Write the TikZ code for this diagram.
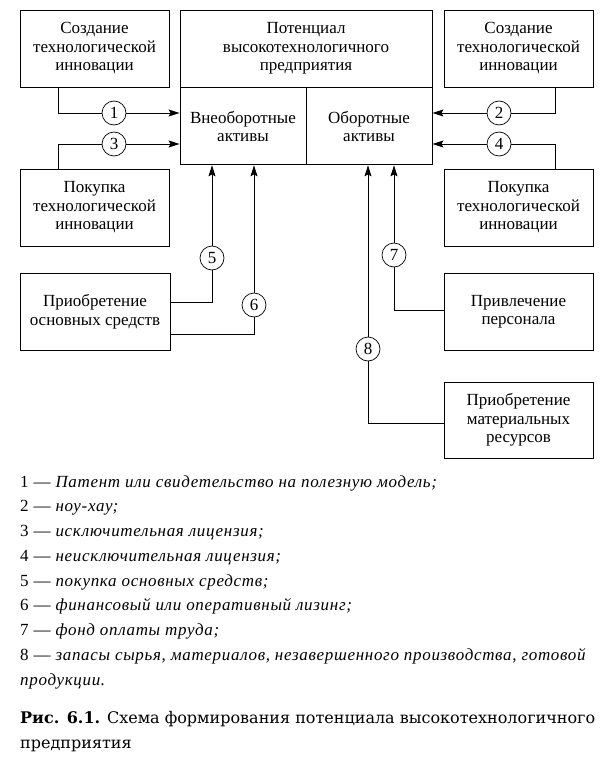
\documentclass[tikz,border=0pt]{standalone}
\usepackage{fontspec}
\setmainfont{Liberation Serif}
\newfontfamily\capfont{DejaVu Serif}
\newfontfamily\legfont[LetterSpace=4]{Liberation Serif}
\usetikzlibrary{positioning,arrows.meta,calc}
\tikzset{
  blk/.style={draw, line width=0.9pt, align=center, inner sep=2pt,
              font=\fontsize{17}{18.5}\selectfont},
  src/.style={blk, minimum width=149pt, minimum height=77pt},
  half/.style={blk, minimum width=126pt, minimum height=77pt},
  num/.style={circle, draw, line width=0.7pt, minimum size=24pt, inner sep=0pt,
              font=\fontsize{17}{17}\selectfont},
  ln/.style={line width=0.8pt},
  ar/.style={ln, -{Stealth[length=11pt,width=7pt,inset=2pt]}},
  leg/.style={anchor=base west, inner sep=0pt, font=\legfont\fontsize{17}{18}\selectfont},
  capt/.style={leg, font=\capfont\fontsize{16}{18}\selectfont},
}

\begin{document}
\begin{tikzpicture}[x=1pt, y=-1pt]
  \useasboundingbox (0,0) rectangle (606,770);
  % blocks
  \node[src] (cl1) at (94.5,48.5) {Создание\\технологической\\инновации};
  \node[blk, minimum width=252pt, minimum height=77pt] (pot) at (306,48.5)
    {Потенциал\\высокотехнологичного\\предприятия};
  \node[half, anchor=north west] (vna) at (pot.south west) {Внеоборотные\\активы};
  \node[half, anchor=north east] (oa) at (pot.south east) {Оборотные\\активы};
  \node[src] (cr1) at (518.5,48.5) {Создание\\технологической\\инновации};
  \node[src] (cl2) at (94.5,207.5) {Покупка\\технологической\\инновации};
  \node[src] (cr2) at (518.5,207.5) {Покупка\\технологической\\инновации};
  \node[src, minimum width=150pt] (pos) at (95,311.5) {Приобретение\\основных средств};
  \node[src] (per) at (518.5,311.5) {Привлечение\\персонала};
  \node[src, minimum height=76pt] (mat) at (518.5,420) {Приобретение\\материальных\\ресурсов};

  % numbered flows
  \foreach \n/\x/\y in {1/114/113, 2/499/113, 3/114/144, 4/499/144,
                        5/212/258, 6/254/305, 7/394/255, 8/368/349}
    \node[num] (n\n) at (\x,\y) {\n};

  \draw[ln] ([xshift=-36.5pt]cl1.south) |- (n1);
  \draw[ar] (n1) -- (n1 -| vna.west);
  \draw[ln] ([xshift=36.5pt]cr1.south) |- (n2);
  \draw[ar] (n2) -- (n2 -| oa.east);
  \draw[ln] ([xshift=-36.5pt]cl2.north) |- (n3);
  \draw[ar] (n3) -- (n3 -| vna.west);
  \draw[ln] ([xshift=36.5pt]cr2.north) |- (n4);
  \draw[ar] (n4) -- (n4 -| oa.east);
  \draw[ln] ([yshift=9.5pt]pos.east) -| (n5);
  \draw[ar] (n5) -- (n5 |- vna.south);
  \draw[ln] ([yshift=-22.5pt]pos.east) -| (n6);
  \draw[ar] (n6) -- (n6 |- vna.south);
  \draw[ln] ([yshift=1.5pt]per.west) -| (n7);
  \draw[ar] (n7) -- (n7 |- oa.south);
  \draw[ln] ([yshift=-3pt]mat.west) -| (n8);
  \draw[ar] (n8) -- (n8 |- oa.south);

  % legend
  \foreach \t [count=\i from 0] in {
      {1 — \textit{Патент или свидетельство на полезную модель;}},
      {2 — \textit{ноу-хау;}},
      {3 — \textit{исключительная лицензия;}},
      {4 — \textit{неисключительная лицензия;}},
      {5 — \textit{покупка основных средств;}},
      {6 — \textit{финансовый или оперативный лизинг;}},
      {7 — \textit{фонд оплаты труда;}},
      {8 — \textit{запасы сырья, материалов, незавершенного производства, готовой}},
      {\textit{продукции.}}}
    \node[leg] (l\i) at (20,{487+24.75*\i}) {\t};

  % caption
  \node[capt] (cap1) at (20,723)
    {\textbf{Рис. 6.1.} Схема формирования потенциала высокотехнологичного};
  \node[capt] (cap2) at (20,748) {предприятия};
\end{tikzpicture}
\end{document}
